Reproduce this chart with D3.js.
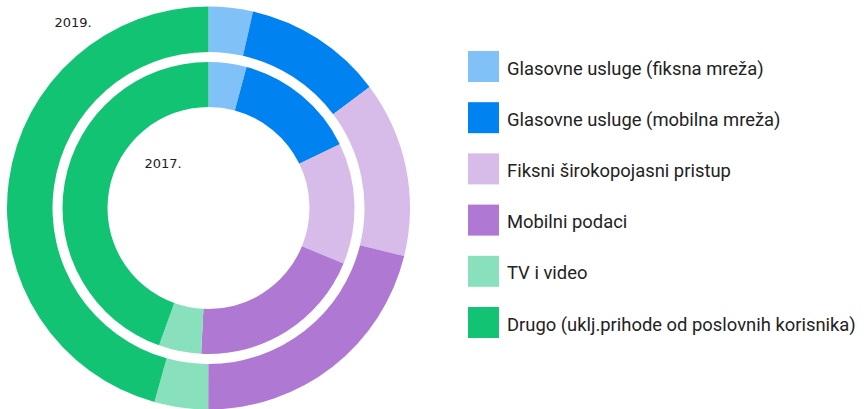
<!DOCTYPE html>
<html>
<head>
<meta charset="utf-8">
<script src="https://cdn.jsdelivr.net/npm/d3@7"></script>
<style>
  html, body { margin: 0; padding: 0; background: #fff; }
  svg { display: block; }
</style>
</head>
<body>
<svg id="chart" width="864" height="409"></svg>
<script>
const categories = [
  "Glasovne usluge (fiksna mreža)",
  "Glasovne usluge (mobilna mreža)",
  "Fiksni širokopojasni pristup",
  "Mobilni podaci",
  "TV i video",
  "Drugo (uklj.prihode od poslovnih korisnika)"
];
const colors = ["#80c1f8", "#0082f0", "#d7bbe9", "#af78d2", "#88e1bc", "#12c373"];
const values2019 = [3.55, 11.2, 14.1, 21.2, 4.3, 45.7];
const values2017 = [4.2, 13.6, 13.4, 19.6, 4.7, 44.5];
const yearLabels = ["2019.", "2017."];

const svg = d3.select("#chart");
const cx = 208.5, cy = 208;

const pie = d3.pie().sort(null).value(d => d);

const rings = [
  { values: values2019, inner: 156, outer: 201.5 },
  { values: values2017, inner: 101, outer: 146 }
];

const g = svg.append("g").attr("transform", `translate(${cx},${cy})`);
rings.forEach(r => {
  const arc = d3.arc().innerRadius(r.inner).outerRadius(r.outer);
  g.append("g").selectAll("path")
    .data(pie(r.values))
    .join("path")
    .attr("d", arc)
    .attr("fill", (d, i) => colors[i]);
});

// year labels
const yearPos = [[54.5, 27], [144.5, 167.5]];
svg.selectAll("text.year")
  .data(yearLabels)
  .join("text")
  .attr("class", "year")
  .attr("x", (d, i) => yearPos[i][0])
  .attr("y", (d, i) => yearPos[i][1])
  .attr("font-family", "DejaVu Sans, sans-serif")
  .attr("font-size", 13)
  .attr("fill", "#222")
  .text(d => d);

// legend
const legend = svg.append("g").attr("transform", "translate(468,51)");
const item = legend.selectAll("g")
  .data(categories)
  .join("g")
  .attr("transform", (d, i) => `translate(0,${i * 51.2})`);
item.append("rect")
  .attr("width", 31).attr("height", 31)
  .attr("fill", (d, i) => colors[i]);
item.append("text")
  .attr("x", 39)
  .attr("y", 23.5)
  .attr("font-family", "Roboto, sans-serif")
  .attr("font-size", 18.4)
  .attr("fill", "#222")
  .text(d => d);
</script>
</body>
</html>
